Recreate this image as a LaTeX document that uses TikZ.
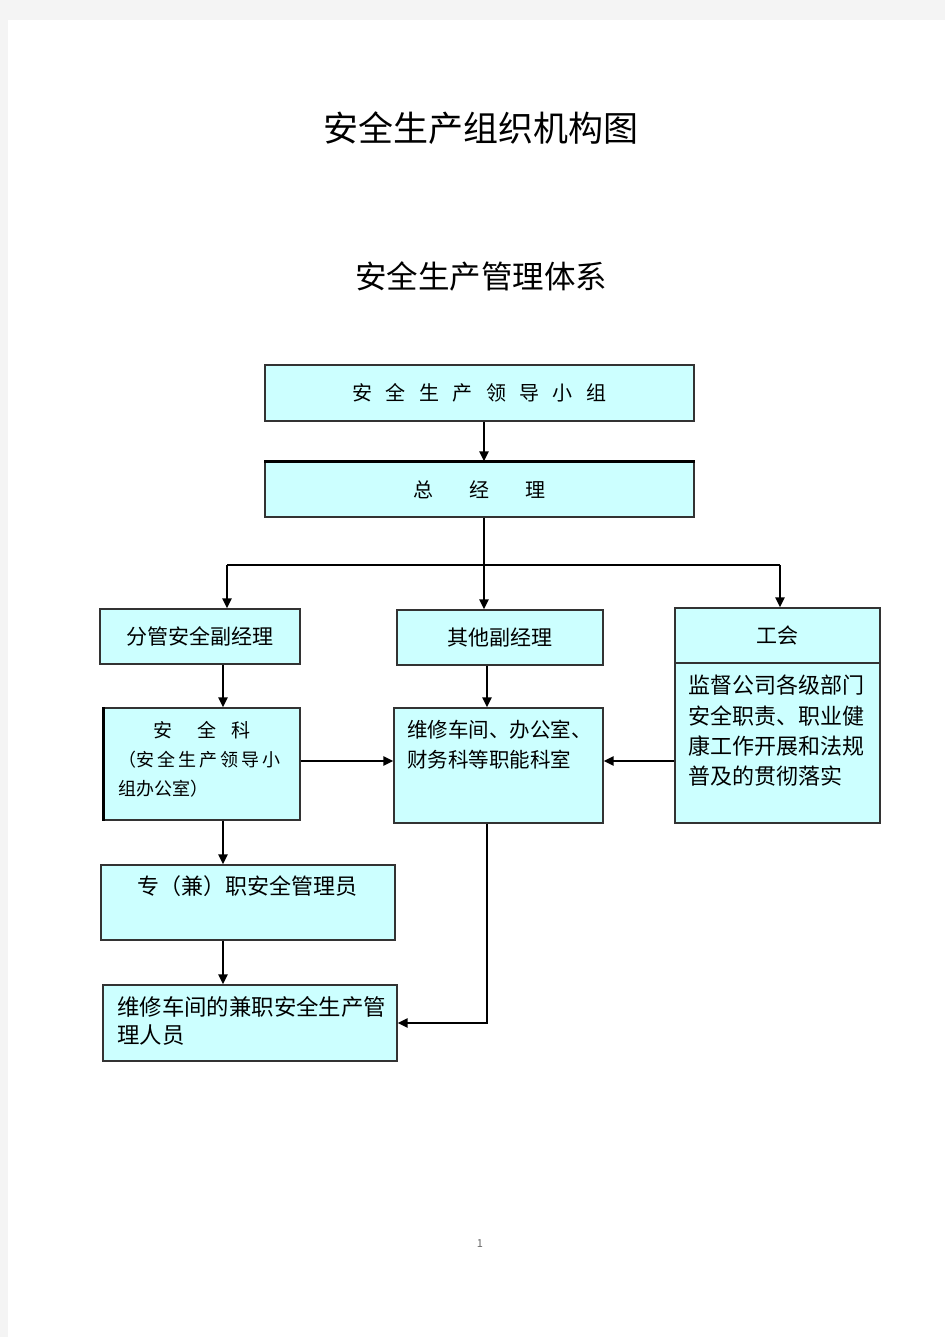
\documentclass[tikz,border=0pt]{standalone}
\usepackage{fontspec}
\setmainfont{Noto Sans CJK SC}
\usetikzlibrary{arrows.meta}
\definecolor{boxfill}{HTML}{CCFFFF}
\definecolor{boxline}{HTML}{333333}
\definecolor{pagegray}{HTML}{F4F4F4}
\newcommand{\fsz}[1]{\fontsize{#1}{#1}\selectfont}
\newcommand{\cg}[1]{\hspace{#1pt}}
\newcommand{\lowr}[1]{\raisebox{-2.5pt}{#1}}

\begin{document}
\begin{tikzpicture}[x=1pt,y=-1pt,>={Triangle[length=10pt,width=9pt]}]
   \tikzstyle{box}=[draw=boxline, fill=boxfill, line width=1.2pt, inner sep=0pt]
   \tikzstyle{link}=[line width=2.3pt, draw=black]
   \tikzstyle{txt}=[inner sep=0pt, anchor=north west, align=left]
   \useasboundingbox (0,0) rectangle (945,1337);
   \fill[pagegray] (0,0) rectangle (945,1337);
   \fill[white] (8,20) rectangle (945,1337);
   % titles
   \node (title) at (481,128) {\fsz{35}安全生产组织机构图};
   \node (subtitle) at (481,276) {\fsz{31.5}安全生产管理体系};
   % leading group and manager
   \node[box, minimum width=429pt, minimum height=56pt] (lingdao) at (479.5,393)
      {\fsz{20}\lowr{安\cg{13.4}全\cg{13.4}生\cg{13.4}产\cg{13.4}领\cg{13.4}导\cg{13.4}小\cg{13.4}组}};
   \node[box, minimum width=429pt, minimum height=55pt] (zongjl) at (479.5,489.5)
      {\fsz{20}\lowr{总\cg{36}经\cg{36}理}};
   \draw[line width=2.2pt] (zongjl.north west) -- (zongjl.north east);
   % second row
   \node[box, minimum width=200pt, minimum height=55pt] (fenguan) at (200,636.5) {\fsz{21}\lowr{分管安全副经理}};
   \node[box, minimum width=206pt, minimum height=55pt] (qita) at (500,637.5) {\fsz{21}\lowr{其他副经理}};
   \node[box, minimum width=205pt, minimum height=55pt] (gonghui) at (777.5,635.5) {\fsz{21}\lowr{工会}};
   \node[box, minimum width=205pt, minimum height=160pt] (jiandu) at (777.5,743) {};
   \node[txt, font=\fontsize{22}{30.3}\selectfont] (jiandutxt) at (688,675)
      {监督公司各级部门\\安全职责、职业健\\康工作开展和法规\\普及的贯彻落实};
   % third row
   \node[box, minimum width=196pt, minimum height=112pt] (anquanke) at (202,764) {};
   \draw[line width=2.2pt] (anquanke.north west) -- (anquanke.south west);
   \node (anketitle) at (202,730) {\fsz{19}安\cg{26}全\cg{15}科};
   \node[txt, font=\fontsize{18}{29}\selectfont] (ankebody) at (118,751)
      {（安\cg{3}全\cg{3}生\cg{3}产\cg{3}领\cg{3}导\cg{3}小\\组办公室）};
   \node[box, minimum width=209pt, minimum height=115pt] (zhineng) at (498.5,765.5) {};
   \node[txt, font=\fontsize{20.5}{30}\selectfont] (zhinengtxt) at (407,720)
      {维修车间、办公室、\\财务科等职能科室};
   % lower boxes
   \node[box, minimum width=294pt, minimum height=75pt] (zhuanjian) at (248,902.5) {};
   \node (zhuanjiantxt) at (247.5,886) {\fsz{22}专（兼）职安全管理员};
   \node[box, minimum width=294pt, minimum height=76pt] (chejian) at (250,1023) {};
   \node[txt, font=\fontsize{22.4}{28}\selectfont] (chejiantxt) at (117,996)
      {维修车间的兼职安全生产管\\理人员};
   % page number
   \node[text=black!60] (pageno) at (480,1244) {\fsz{11}1};
   % connectors
   \coordinate (busl) at (227,565);
   \coordinate (busm) at (484,565);
   \coordinate (busr) at (780,565);
   \coordinate (colL) at (223,0);
   \coordinate (colM) at (487,0);
   \coordinate (rowM) at (0,761);
   \draw[link,->] (lingdao.south -| busm) -- (zongjl.north -| busm);
   \draw[link] (zongjl.south -| busm) -- (busm);
   \draw[link] (busl) -- (busr);
   \draw[link,->] (busl) -- (fenguan.north -| busl);
   \draw[link,->] (busm) -- (qita.north -| busm);
   \draw[link,->] (busr) -- (gonghui.north -| busr);
   \draw[link,->] (fenguan.south -| colL) -- (anquanke.north -| colL);
   \draw[link,->] (qita.south -| colM) -- (zhineng.north -| colM);
   \draw[link,->] (anquanke.east |- rowM) -- (zhineng.west |- rowM);
   \draw[link,->] (jiandu.west |- rowM) -- (zhineng.east |- rowM);
   \draw[link,->] (anquanke.south -| colL) -- (zhuanjian.north -| colL);
   \draw[link,->] (zhuanjian.south -| colL) -- (chejian.north -| colL);
   \draw[link,->] (zhineng.south -| colM) |- (chejian.east);
\end{tikzpicture}
\end{document}
